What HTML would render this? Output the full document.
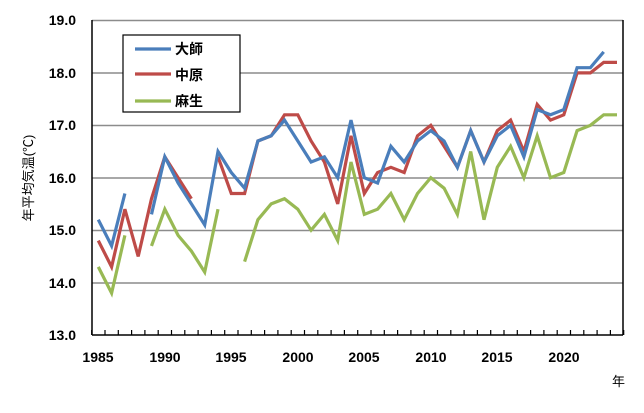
<!DOCTYPE html>
<html><head><meta charset="utf-8"><style>
body{margin:0;background:#fff;width:644px;height:408px;overflow:hidden}
text{font-family:"Liberation Sans","Noto Sans CJK JP",sans-serif;font-weight:bold;font-size:14px;fill:#000}
</style></head><body>
<svg width="644" height="408" xmlns="http://www.w3.org/2000/svg">
<g stroke="#8c8c8c" stroke-width="1.5">
<line x1="92" y1="20.5" x2="623" y2="20.5"/><line x1="92" y1="73" x2="623" y2="73"/>
<line x1="92" y1="125.5" x2="623" y2="125.5"/><line x1="92" y1="178" x2="623" y2="178"/>
<line x1="92" y1="230.5" x2="623" y2="230.5"/><line x1="92" y1="283" x2="623" y2="283"/>
</g>
<g stroke="#000" stroke-width="1.5" fill="none">
<line x1="92" y1="20" x2="92" y2="335"/><line x1="623" y1="20" x2="623" y2="335"/>
<line x1="92" y1="335" x2="623" y2="335"/>
</g>
<g id="ticks" stroke="#000" stroke-width="1.2"></g>
<g id="lines" fill="none" stroke-width="3.2" stroke-linejoin="miter"></g>
<g text-anchor="end">
<text x="76" y="25">19.0</text><text x="76" y="78">18.0</text><text x="76" y="130">17.0</text>
<text x="76" y="183">16.0</text><text x="76" y="235">15.0</text><text x="76" y="288">14.0</text><text x="76" y="340">13.0</text>
</g>
<g text-anchor="middle">
<text x="98" y="362">1985</text><text x="165" y="362">1990</text><text x="231" y="362">1995</text>
<text x="298" y="362">2000</text><text x="364" y="362">2005</text><text x="431" y="362">2010</text>
<text x="497" y="362">2015</text><text x="564" y="362">2020</text>
</g>
<text x="612" y="386" style="font-size:13px;font-weight:normal">年</text>
<text transform="translate(33,178) rotate(-90)" text-anchor="middle" style="font-size:13px;font-weight:normal">年平均気温(℃)</text>
<rect x="123" y="35" width="117" height="77" fill="#fff" stroke="#000" stroke-width="1.2"/>
<line x1="135" y1="49" x2="171" y2="49" stroke="#4a7ebb" stroke-width="3.2"/>
<line x1="135" y1="74" x2="171" y2="74" stroke="#be4b48" stroke-width="3.2"/>
<line x1="135" y1="101" x2="171" y2="101" stroke="#98b954" stroke-width="3.2"/>
<text x="175" y="54">大師</text><text x="175" y="80">中原</text><text x="175" y="106">麻生</text>
</svg>
<script>
const ns="http://www.w3.org/2000/svg";
const t=document.getElementById('ticks');
for(let k=0;k<=40;k++){const x=91.7+13.3*k;const l=document.createElementNS(ns,'line');l.setAttribute('x1',x);l.setAttribute('x2',x);l.setAttribute('y1',330);l.setAttribute('y2',335);t.appendChild(l);}
const N=null;
const blue=[15.2,14.7,15.7,N,15.3,16.4,15.9,15.5,15.1,16.5,16.1,15.8,16.7,16.8,17.1,16.7,16.3,16.4,16.0,17.1,16.0,15.9,16.6,16.3,16.7,16.9,16.7,16.2,16.9,16.3,16.8,17.0,16.4,17.3,17.2,17.3,18.1,18.1,18.4,N];
const red=[14.8,14.3,15.4,14.5,15.6,16.4,16.0,15.6,N,16.4,15.7,15.7,16.7,16.8,17.2,17.2,16.7,16.3,15.5,16.8,15.7,16.1,16.2,16.1,16.8,17.0,16.6,16.2,16.9,16.3,16.9,17.1,16.5,17.4,17.1,17.2,18.0,18.0,18.2,18.2];
const green=[14.3,13.8,14.9,N,14.7,15.4,14.9,14.6,14.2,15.4,N,14.4,15.2,15.5,15.6,15.4,15.0,15.3,14.8,16.3,15.3,15.4,15.7,15.2,15.7,16.0,15.8,15.3,16.5,15.2,16.2,16.6,16.0,16.8,16.0,16.1,16.9,17.0,17.2,17.2];
const g=document.getElementById('lines');
function draw(d,c){let p='',pen=false;d.forEach((v,i)=>{if(v===N){pen=false;return;}const x=98.3+13.3*i,y=335-(v-13)*52.42;p+=(pen?'L':'M')+x.toFixed(1)+' '+y.toFixed(1);pen=true;});const e=document.createElementNS(ns,'path');e.setAttribute('d',p);e.setAttribute('stroke',c);g.appendChild(e);}
draw(green,'#98b954');draw(red,'#be4b48');draw(blue,'#4a7ebb');
</script>
</body></html>
